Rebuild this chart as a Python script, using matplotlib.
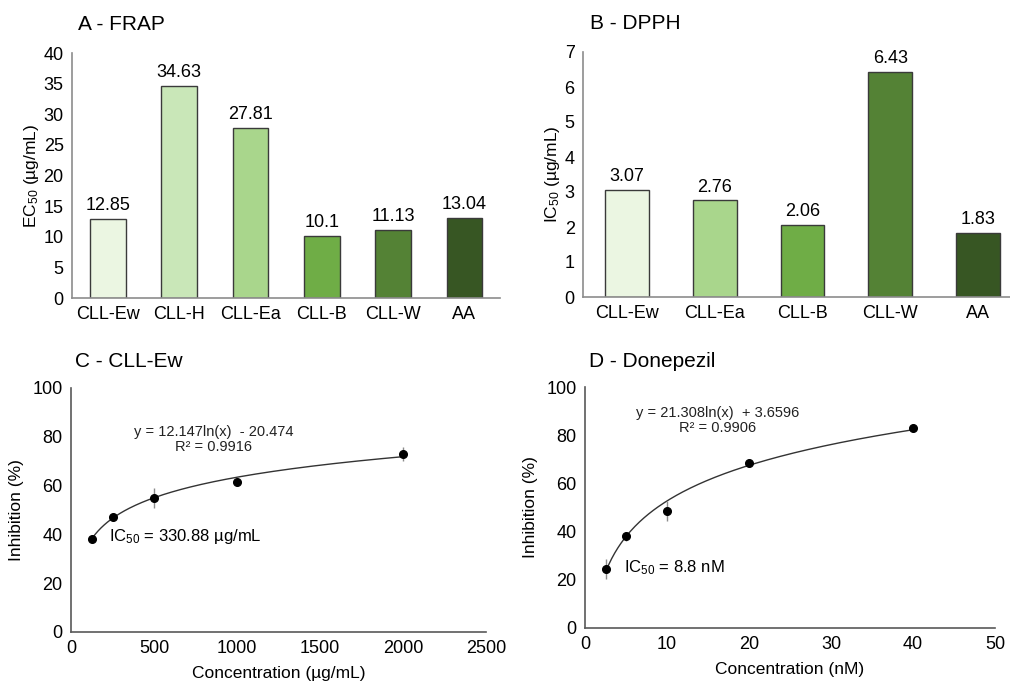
import numpy as np
import matplotlib
matplotlib.use("Agg")
import matplotlib.pyplot as plt

plt.rcParams['font.family'] = ['Liberation Sans', 'DejaVu Sans']
plt.rcParams['mathtext.fontset'] = 'custom'
plt.rcParams['mathtext.rm'] = 'Liberation Sans'
plt.rcParams['mathtext.it'] = 'Liberation Sans'

# A - FRAP
frap_labels = ['CLL-Ew', 'CLL-H', 'CLL-Ea', 'CLL-B', 'CLL-W', 'AA']
frap_values = [12.85, 34.63, 27.81, 10.1, 11.13, 13.04]
frap_colors = ['#ebf6e2', '#c9e7b8', '#a9d68c', '#6fad46', '#548235', '#375623']

# B - DPPH
dpph_labels = ['CLL-Ew', 'CLL-Ea', 'CLL-B', 'CLL-W', 'AA']
dpph_values = [3.07, 2.76, 2.06, 6.43, 1.83]
dpph_colors = ['#ebf6e2', '#a9d68c', '#6fad46', '#548235', '#375623']

# C - CLL-Ew inhibition
c_conc = [125, 250, 500, 1000, 2000]
c_inhib = [38, 47, 55, 61.3, 73]
c_err = [1, 1, 4, 1, 3]
c_coef = (12.147, -20.474)

# D - Donepezil inhibition
d_conc = [2.5, 5, 10, 20, 40]
d_inhib = [24.5, 38, 48.5, 68.5, 83]
d_err = [4, 2, 4, 1, 1]
d_coef = (21.308, 3.6596)

W, H = 1010, 685
fig = plt.figure(figsize=(W / 100, H / 100), dpi=100)


def add_axes(left, right, top, bottom):
    return fig.add_axes([left / W, 1 - bottom / H, (right - left) / W, (bottom - top) / H])


def style(ax, spine_color):
    for s in ['top', 'right']:
        ax.spines[s].set_visible(False)
    for s in ['left', 'bottom']:
        ax.spines[s].set_color(spine_color)
        ax.spines[s].set_linewidth(1.2)
    ax.tick_params(length=0, labelsize=13, colors='#000000', pad=6)


def bar_panel(ax, labels, values, colors, ymax, ylabel, title):
    x = np.arange(len(labels))
    bars = ax.bar(x, values, 0.5, color=colors, edgecolor='#3a3a3a', linewidth=1)
    for rect, v in zip(bars, values):
        ax.text(rect.get_x() + rect.get_width() / 2, v + ymax * 0.02, f'{v:g}',
                ha='center', va='bottom', fontsize=13)
    ax.set_xticks(x)
    ax.set_xticklabels(labels)
    ax.set_xlim(-0.5, len(labels) - 0.5)
    ax.set_ylim(0, ymax)
    ax.set_ylabel(ylabel, fontsize=12.5, labelpad=2)
    ax.set_title(title, loc='left', fontsize=15, x=0.015, y=1.06)
    style(ax, '#8c8c8c')


axA = add_axes(72, 500, 53, 298)
bar_panel(axA, frap_labels, frap_values, frap_colors, 40, 'EC$_{50}$ (µg/mL)', 'A - FRAP')
axA.set_yticks(np.arange(0, 41, 5))

axB = add_axes(583, 1022, 52, 297)
bar_panel(axB, dpph_labels, dpph_values, dpph_colors, 7, 'IC$_{50}$ (µg/mL)', 'B - DPPH')
axB.set_yticks(np.arange(0, 8, 1))


def curve_panel(ax, conc, inhib, err, coef, xmax, xstep, xlabel, title, eq, eq_xy, ic_text, ic_xy):
    xs = np.linspace(conc[0], conc[-1], 200)
    ax.plot(xs, coef[0] * np.log(xs) + coef[1], color='#333333', lw=1)
    ax.errorbar(conc, inhib, yerr=err, fmt='o', color='black', ms=5.5,
                ecolor='#8c8c8c', elinewidth=1, capsize=0)
    ax.set_xlim(0, xmax)
    ax.set_ylim(0, 100)
    ax.set_xticks(np.arange(0, xmax + 1, xstep))
    ax.set_yticks(np.arange(0, 101, 20))
    ax.set_xlabel(xlabel, fontsize=12.5, labelpad=6)
    ax.set_ylabel('Inhibition (%)', fontsize=12.5, labelpad=6)
    ax.set_title(title, loc='left', fontsize=15, x=0.01, y=1.05)
    ax.text(eq_xy[0], eq_xy[1], eq, ha='center', va='center', fontsize=10.5,
            linespacing=1.05, color='#222222')
    ax.text(ic_xy[0], ic_xy[1], ic_text, ha='left', va='center', fontsize=12)
    style(ax, '#595959')


axC = add_axes(71, 486, 388, 632)
curve_panel(axC, c_conc, c_inhib, c_err, c_coef, 2500, 500, 'Concentration (µg/mL)',
            'C - CLL-Ew', 'y = 12.147ln(x)  - 20.474\nR² = 0.9916', (860, 79),
            'IC$_{50}$ = 330.88 µg/mL', (230, 39))

axD = add_axes(585, 995, 387, 628)
curve_panel(axD, d_conc, d_inhib, d_err, d_coef, 50, 10, 'Concentration (nM)',
            'D - Donepezil', 'y = 21.308ln(x)  + 3.6596\nR² = 0.9906', (16.2, 86),
            'IC$_{50}$ = 8.8 nM', (4.7, 25))

fig.savefig('out.png', dpi=100)
